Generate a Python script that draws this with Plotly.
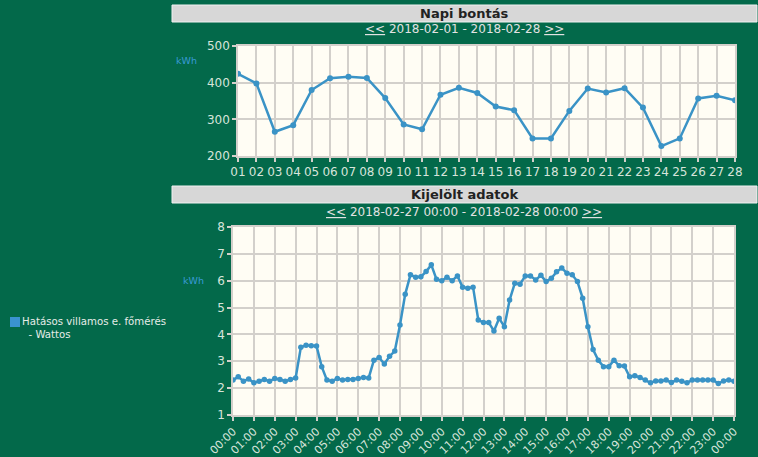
import plotly.graph_objects as go
import pandas as pd

# ---- data ----
days = ["%02d" % d for d in range(1, 29)]
daily_kwh = [424, 398, 266, 284, 380, 412, 416, 413, 358, 286, 273, 367, 386,
             372, 335, 325, 248, 248, 323, 384, 373, 385, 332, 227, 248, 357, 364, 352]

quarter_kwh = [
    2.30, 2.42, 2.26, 2.34, 2.20, 2.26, 2.32, 2.26, 2.36, 2.32, 2.26, 2.32,  # 00:00-02:45
    2.38, 3.52, 3.60, 3.58, 3.57, 2.80, 2.30, 2.26, 2.36, 2.30, 2.32, 2.32,  # 03:00-05:45
    2.36, 2.40, 2.38, 3.04, 3.14, 2.90, 3.19, 3.38, 4.35, 5.50, 6.22, 6.13,  # 06:00-08:45
    6.15, 6.34, 6.59, 6.05, 6.00, 6.13, 6.00, 6.18, 5.76, 5.72, 5.76, 4.54,  # 09:00-11:45
    4.44, 4.44, 4.13, 4.60, 4.29, 5.28, 5.91, 5.87, 6.18, 6.18, 6.03, 6.20,  # 12:00-14:45
    5.97, 6.09, 6.33, 6.47, 6.28, 6.22, 5.97, 5.35, 4.29, 3.44, 3.04, 2.80,  # 15:00-17:45
    2.80, 3.04, 2.83, 2.82, 2.42, 2.46, 2.40, 2.30, 2.20, 2.27, 2.27, 2.30,  # 18:00-20:45
    2.21, 2.30, 2.26, 2.20, 2.30, 2.30, 2.30, 2.30, 2.30, 2.17, 2.27, 2.30,  # 21:00-23:45
    2.26,                                                                    # 24:00
]
quarter_times = pd.date_range("2018-02-27 00:00", "2018-02-28 00:00", freq="15min")

top_yticks = [200, 300, 400, 500]
bottom_yticks = [1, 2, 3, 4, 5, 6, 7, 8]

top_title = "Napi bontás"
top_sub = "<u>&lt;&lt;</u> 2018-02-01 - 2018-02-28 <u>&gt;&gt;</u>"
bottom_title = "Kijelölt adatok"
bottom_sub = "<u>&lt;&lt;</u> 2018-02-27 00:00 - 2018-02-28 00:00 <u>&gt;&gt;</u>"
legend_text = "Hatásos villamos e. főmérés<br>  - Wattos"
unit = "kWh"

# ---- style ----
W, H = 758, 457
BG = "#03694A"
PLOT_BG = "#FFFDF4"
GRID = "#D3D0CB"
LINE = "#3A93C6"
TICKTXT = "#D6E4DA"
FONT = "DejaVu Sans"

def px_x(v):
    return v / W

def px_y(v):
    return 1 - v / H

fig = go.Figure()
fig.add_trace(go.Scatter(x=days, y=daily_kwh, mode="lines+markers",
                         line=dict(color=LINE, width=2.5),
                         marker=dict(color=LINE, size=6),
                         xaxis="x", yaxis="y", showlegend=False))
fig.add_trace(go.Scatter(x=quarter_times, y=quarter_kwh, mode="lines+markers",
                         line=dict(color=LINE, width=2.5),
                         marker=dict(color=LINE, size=5.5),
                         xaxis="x2", yaxis="y2", showlegend=False))

axis_common = dict(showgrid=True, gridcolor=GRID, gridwidth=1.5,
                   showline=True, linecolor=GRID, linewidth=1.5, mirror=True,
                   ticks="outside", tickcolor=GRID, ticklen=4, tickwidth=1.5,
                   tickfont=dict(color=TICKTXT, size=12, family=FONT),
                   zeroline=False, fixedrange=True, automargin=False)

fig.update_layout(
    width=W, height=H, autosize=False,
    margin=dict(l=0, r=0, t=0, b=0),
    paper_bgcolor=BG, plot_bgcolor=PLOT_BG,
    font=dict(family=FONT),
    xaxis=dict(domain=[px_x(238), px_x(735)], anchor="y", type="category",
               range=[0, len(days) - 1], **axis_common),
    yaxis=dict(domain=[px_y(156), px_y(46)], anchor="x", range=[200, 500],
               tickvals=top_yticks, **axis_common),
    xaxis2=dict(domain=[px_x(233), px_x(734)], anchor="y2", type="date",
                range=[quarter_times[0], quarter_times[-1]],
                dtick=3600000, tickformat="%H:%M", tickangle=-45,
                **{**axis_common, "tickfont": dict(color=TICKTXT, size=11, family=FONT)}),
    yaxis2=dict(domain=[px_y(415), px_y(227)], anchor="x2", range=[1, 8],
                tickvals=bottom_yticks, **axis_common),
)

# header bars
for y0, y1 in [(5, 22), (186, 203)]:
    fig.add_shape(type="rect", xref="paper", yref="paper",
                  x0=px_x(172), x1=px_x(757), y0=px_y(y1), y1=px_y(y0),
                  fillcolor="#D7D7D7", line=dict(color="#F2F2F2", width=1), layer="below")

def ann(text, x, y, size, color, bold=False, xanchor="center", align="center"):
    fig.add_annotation(text=("<b>%s</b>" % text) if bold else text,
                       x=px_x(x), y=px_y(y), xref="paper", yref="paper",
                       showarrow=False, xanchor=xanchor, yanchor="middle", align=align,
                       font=dict(size=size, color=color, family=FONT))

ann(top_title, 464, 13.5, 13, "#222222", bold=True)
ann(top_sub, 464, 29, 12, "#E2E2E2")
ann(bottom_title, 464, 194.5, 13, "#222222", bold=True)
ann(bottom_sub, 464, 212, 12, "#E2E2E2")
ann(unit, 186, 60, 9.5, "#3A9AD6")
ann(unit, 193, 280, 9.5, "#3A9AD6")

# legend
fig.add_shape(type="rect", xref="paper", yref="paper",
              x0=px_x(10), x1=px_x(20), y0=px_y(327), y1=px_y(317),
              fillcolor="#3A93D0", line=dict(color="#3A93D0", width=0))
ann(legend_text, 20, 328, 10.2, "#E6ECE8", xanchor="left", align="left")

post = ("document.documentElement.style.margin='0';document.body.style.margin='0';"
        "document.body.style.padding='0';document.body.style.overflow='hidden';"
        "document.body.style.background='%s';"
        "var gd=document.getElementById('{plot_id}');"
        "Plotly.relayout(gd,{width:%d,height:%d});" % (BG, W, H))

fig.write_html("out.html", config={"responsive": False, "displayModeBar": False},
               post_script=post)
